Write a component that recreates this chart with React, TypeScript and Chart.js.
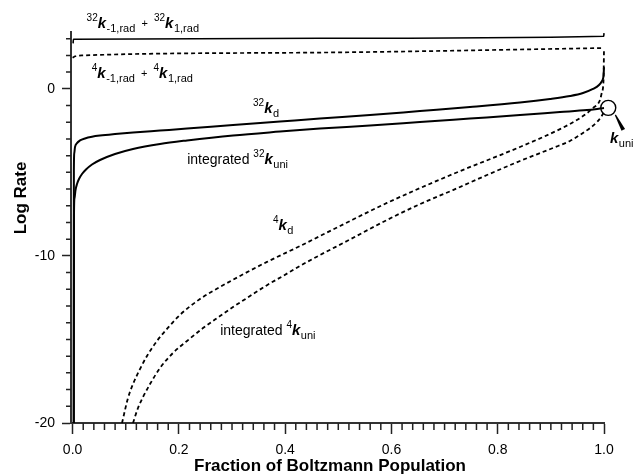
import React, { useEffect, useRef } from 'react';
import { Chart, registerables } from 'chart.js';

Chart.register(...registerables);

const FONT = '"Liberation Sans", Arial, Helvetica, sans-serif';

// Tick labels
const xTicks = [0, 0.2, 0.4, 0.6, 0.8, 1.0];
const yTicks = [-20, -10, 0];

// 32k_-1,rad + 32k_1,rad (solid)
const rad32X = [0.001, 0.0015, 0.466, 0.9995, 1.0];
const rad32Y = [2.72, 2.97, 3.03, 3.15, 3.33];

// 4k_-1,rad + 4k_1,rad (dashed)
const rad4X = [0.0, 0.005, 0.02, 0.466, 1.0];
const rad4Y = [1.86, 1.95, 2.0, 2.17, 2.44];

// 32k_d (solid)
const kd32X = [0.0021, 0.0024, 0.0032, 0.0045, 0.0083, 0.0139, 0.0233, 0.0365, 0.0516, 0.0798, 0.1137, 0.1645, 0.2153, 0.3019, 0.3903, 0.4655, 0.5597, 0.6537, 0.7478, 0.8419, 0.8984, 0.936, 0.9605, 0.9793, 0.9906, 0.9962, 0.9991, 1.0];
const kd32Y = [-20, -4.86, -3.84, -3.49, -3.25, -3.09, -2.97, -2.87, -2.8, -2.71, -2.62, -2.5, -2.38, -2.17, -1.96, -1.78, -1.57, -1.33, -1.09, -0.82, -0.61, -0.43, -0.25, -0.01, 0.23, 0.47, 0.77, 1.3];

// integrated 32k_uni (solid)
const uni32X = [0.0023, 0.0026, 0.0036, 0.0055, 0.0083, 0.012, 0.0177, 0.0252, 0.0365, 0.0516, 0.0798, 0.1137, 0.1645, 0.2153, 0.3019, 0.3903, 0.4655, 0.5597, 0.6537, 0.7478, 0.8419, 0.9172, 0.968, 0.9925, 1.0];
const uni32Y = [-20, -7.55, -6.54, -6.06, -5.7, -5.4, -5.1, -4.83, -4.53, -4.26, -3.9, -3.6, -3.3, -3.09, -2.79, -2.56, -2.38, -2.2, -1.99, -1.78, -1.57, -1.39, -1.27, -1.18, -1.15];

// 4k_d (dashed)
const kd4X = [0.093, 0.1043, 0.1137, 0.1268, 0.14, 0.1588, 0.1776, 0.2021, 0.2397, 0.2774, 0.315, 0.3658, 0.4279, 0.5032, 0.5916, 0.7158, 0.8419, 0.9172, 0.9548, 0.9793, 0.9925, 0.9962, 0.9991, 1.0];
const kd4Y = [-20, -18.5, -17.67, -16.77, -15.99, -15.09, -14.37, -13.53, -12.58, -11.86, -11.2, -10.36, -9.41, -8.21, -6.83, -5.1, -3.48, -2.41, -1.75, -1.15, -0.67, -0.19, 0.53, 2.38];

// integrated 4k_uni (dashed)
const uni4X = [0.1137, 0.1231, 0.1325, 0.1457, 0.1645, 0.1889, 0.2153, 0.2454, 0.2774, 0.3019, 0.3339, 0.3658, 0.3959, 0.4279, 0.4655, 0.5164, 0.5916, 0.6537, 0.7158, 0.7798, 0.8419, 0.904, 0.936, 0.9548, 0.9736, 0.9868, 0.9943, 1.0];
const uni4Y = [-20, -19.1, -18.45, -17.67, -16.71, -15.81, -15.09, -14.32, -13.6, -13.06, -12.4, -11.75, -11.2, -10.6, -9.95, -9.11, -7.85, -6.9, -6.06, -5.16, -4.32, -3.54, -3.12, -2.76, -2.35, -1.99, -1.69, -1.39];

// thermal k_uni marker
const kuniX = [1.008];
const kuniY = [-1.14];

type Part = [string, string];
const labels: { x: number; y: number; parts: Part[] }[] = [
  { x: 0.0264, y: 3.65, parts: [['sup', '32'], ['k', 'k'], ['sub', '-1,rad'], ['plus', '  +  '], ['sup', '32'], ['k', 'k'], ['sub', '1,rad']] },
  { x: 0.036, y: 0.66, parts: [['sup', '4'], ['k', 'k'], ['sub', '-1,rad'], ['plus', '  +  '], ['sup', '4'], ['k', 'k'], ['sub', '1,rad']] },
  { x: 0.3395, y: -1.44, parts: [['sup', '32'], ['k', 'k'], ['sub', 'd']] },
  { x: 0.2156, y: -4.49, parts: [['txt', 'integrated '], ['sup', '32'], ['k', 'k'], ['sub', 'uni']] },
  { x: 0.377, y: -8.44, parts: [['sup', '4'], ['k', 'k'], ['sub', 'd']] },
  { x: 0.2778, y: -14.73, parts: [['txt', 'integrated '], ['sup', '4'], ['k', 'k'], ['sub', 'uni']] },
  { x: 1.0113, y: -3.23, parts: [['k', 'k'], ['sub', 'uni']] },
];

const arrowFrom = { x: 1.0213, y: -1.56 };
const arrowTo = { x: 1.0363, y: -2.46 };

const partStyle: Record<string, { font: string; dy: number }> = {
  sup: { font: `10px ${FONT}`, dy: -7 },
  k: { font: `italic bold 15px ${FONT}`, dy: 0 },
  sub: { font: `11px ${FONT}`, dy: 4 },
  txt: { font: `14px ${FONT}`, dy: 0 },
  plus: { font: `11px ${FONT}`, dy: -1 },
};

function mk(xs: number[], ys: number[]) {
  return xs.map((x, i) => ({ x, y: ys[i] }));
}

function line(xs: number[], ys: number[], width: number, dash: number[]) {
  return {
    data: mk(xs, ys),
    borderColor: '#000',
    backgroundColor: '#000',
    borderWidth: width,
    borderDash: dash,
    pointRadius: 0,
    pointHoverRadius: 0,
    showLine: true,
    fill: false,
    cubicInterpolationMode: 'monotone' as const,
    clip: false as const,
  };
}

const annotPlugin = {
  id: 'annot',
  afterDraw(chart: any) {
    const { ctx, chartArea, scales } = chart;
    const xs = scales.x;
    const ys = scales.y;
    ctx.save();
    // minor ticks
    ctx.strokeStyle = '#222';
    ctx.lineWidth = 1.5;
    ctx.beginPath();
    for (let i = -20; i <= 3; i++) {
      if (i % 10 === 0) continue;
      const py = ys.getPixelForValue(i);
      ctx.moveTo(chartArea.left - 5, py);
      ctx.lineTo(chartArea.left, py);
    }
    for (let i = 1; i < 50; i++) {
      if (i % 10 === 0) continue;
      const px = xs.getPixelForValue(i * 0.02);
      ctx.moveTo(px, chartArea.bottom);
      ctx.lineTo(px, chartArea.bottom + 7);
    }
    ctx.stroke();

    // labels
    ctx.fillStyle = '#000';
    ctx.textBaseline = 'alphabetic';
    ctx.textAlign = 'left';
    for (const lab of labels) {
      let px = xs.getPixelForValue(lab.x);
      const py = ys.getPixelForValue(lab.y);
      for (const [type, text] of lab.parts) {
        const st = partStyle[type];
        ctx.font = st.font;
        ctx.fillText(text, px, py + st.dy);
        px += ctx.measureText(text).width + (type === 'k' ? 0.5 : 0);
      }
    }

    // arrow (tapered wedge)
    const ax = xs.getPixelForValue(arrowFrom.x);
    const ay = ys.getPixelForValue(arrowFrom.y);
    const bx = xs.getPixelForValue(arrowTo.x);
    const by = ys.getPixelForValue(arrowTo.y);
    const dx = bx - ax;
    const dy = by - ay;
    const len = Math.hypot(dx, dy);
    const nx = -dy / len;
    const ny = dx / len;
    ctx.beginPath();
    ctx.moveTo(ax + nx * 0.6, ay + ny * 0.6);
    ctx.lineTo(bx + nx * 2, by + ny * 2);
    ctx.lineTo(bx - nx * 2, by - ny * 2);
    ctx.lineTo(ax - nx * 0.6, ay - ny * 0.6);
    ctx.closePath();
    ctx.fill();

    // axis titles
    ctx.font = `bold 17px ${FONT}`;
    ctx.textAlign = 'center';
    ctx.fillText('Fraction of Boltzmann Population', 330, 471);
    ctx.translate(25.5, 198);
    ctx.rotate(-Math.PI / 2);
    ctx.fillText('Log Rate', 0, 0);
    ctx.restore();
  },
};

export default function App() {
  const ref = useRef<HTMLCanvasElement | null>(null);
  useEffect(() => {
    document.body.style.margin = '0';
    const canvas = ref.current;
    if (!canvas) return;
    const chart = new Chart(canvas, {
      type: 'scatter',
      data: {
        datasets: [
          line(rad32X, rad32Y, 1.6, []),
          line(rad4X, rad4Y, 1.7, [4, 3]),
          line(kd32X, kd32Y, 2, []),
          line(uni32X, uni32Y, 2, []),
          line(kd4X, kd4Y, 1.8, [4, 3]),
          line(uni4X, uni4Y, 1.8, [4, 3]),
          {
            data: mk(kuniX, kuniY),
            showLine: false,
            pointRadius: 7.5,
            pointHoverRadius: 7.5,
            pointBorderWidth: 1.4,
            pointBorderColor: '#000',
            pointBackgroundColor: 'rgba(0,0,0,0)',
            clip: false as const,
          },
        ],
      },
      options: {
        animation: false,
        responsive: false,
        devicePixelRatio: 1,
        events: [],
        layout: { padding: { top: 32, right: 30, left: 0, bottom: 0 } },
        plugins: { legend: { display: false }, tooltip: { enabled: false } },
        scales: {
          x: {
            type: 'linear',
            min: -0.003,
            max: 1.0,
            afterBuildTicks: (s: any) => {
              s.ticks = xTicks.map((v) => ({ value: v }));
            },
            afterFit: (s: any) => {
              s.height = 53;
            },
            grid: { drawOnChartArea: false, drawTicks: true, tickLength: 11, tickColor: '#222', tickWidth: 1.5 },
            border: { display: true, color: '#333', width: 2 },
            ticks: {
              color: '#000',
              font: { family: FONT, size: 14 },
              padding: 8,
              maxRotation: 0,
              autoSkip: false,
              callback: (v: any) => Number(v).toFixed(1),
            },
          },
          y: {
            type: 'linear',
            min: -20,
            max: 3.4,
            afterBuildTicks: (s: any) => {
              s.ticks = yTicks.map((v) => ({ value: v }));
            },
            afterFit: (s: any) => {
              s.width = 71;
            },
            grid: { drawOnChartArea: false, drawTicks: true, tickLength: 9, tickColor: '#222', tickWidth: 1.5 },
            border: { display: true, color: '#333', width: 2 },
            ticks: {
              color: '#000',
              font: { family: FONT, size: 14 },
              padding: 7,
              autoSkip: false,
              callback: (v: any) => String(v),
            },
          },
        },
      },
      plugins: [annotPlugin],
    } as any);
    return () => chart.destroy();
  }, []);
  return <canvas ref={ref} width={634} height={476} style={{ display: 'block' }} />;
}
